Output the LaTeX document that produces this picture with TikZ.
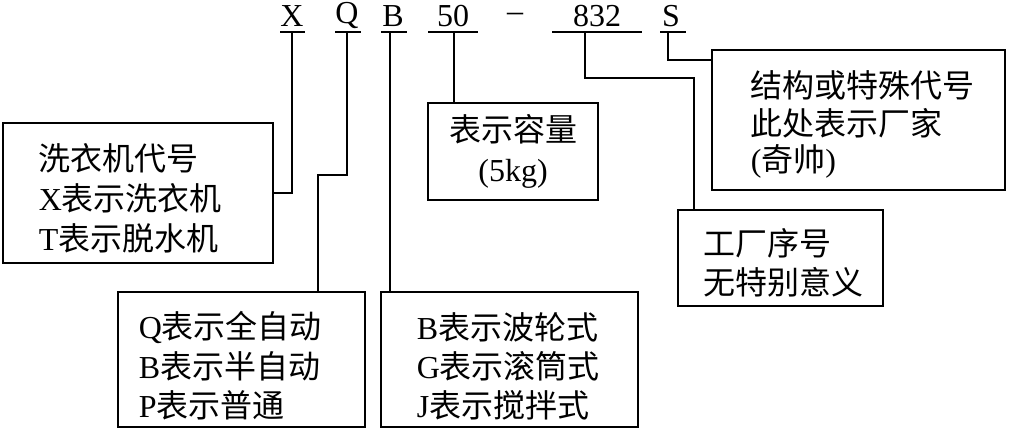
\documentclass[tikz,border=0pt]{standalone}
\usepackage{fontspec}
\setmainfont{Liberation Serif}
\newfontfamily\cjk{Noto Sans CJK SC}
\begin{document}
\begin{tikzpicture}[x=0.75pt,y=-0.75pt,line width=1.2pt,
  bx/.style={draw,line width=1.2pt},
  txt/.style={anchor=west,align=left,font=\fontsize{24}{30}\selectfont,inner sep=0pt},
  code/.style={font=\fontsize{24}{30}\selectfont,inner sep=0pt}]
\useasboundingbox (0,0) rectangle (1010,434);
% code letters
\node[code] (lx) at (292,16) {X};
\node[code] (lq) at (347,16) {Q};
\node[code] (lb) at (393,16) {B};
\node[code] (l50) at (453,16) {50};
\node[code] (ld) at (515,17) {--};
\node[code] (l832) at (597,16) {832};
\node[code] (ls) at (671,16) {S};
% underlines
\draw (280,32) -- (305,32); \draw (335,32) -- (361,32); \draw (381,32) -- (407,32);
\draw (428,32) -- (478,32); \draw (552,32) -- (642,32); \draw (660,32) -- (686,32);
% boxes
\draw[bx] (3,123) rectangle (273,263);
\node[txt] at (38,158) {\cjk 洗衣机代号};
\node[txt] at (38,198) {X\cjk 表示洗衣机};
\node[txt] at (38,238) {T\cjk 表示脱水机};
\draw[bx] (118,292) rectangle (365,427);
\node[txt] at (138,327) {Q\cjk 表示全自动};
\node[txt] at (138,366) {B\cjk 表示半自动};
\node[txt] at (138,405) {P\cjk 表示普通};
\draw[bx] (381,292) rectangle (638,427);
\node[txt] at (416,327) {B\cjk 表示波轮式};
\node[txt] at (416,366) {G\cjk 表示滚筒式};
\node[txt] at (416,405) {J\cjk 表示搅拌式};
\draw[bx] (428,103) rectangle (598,200);
\node[txt,anchor=center,align=center] at (513,151) {{\cjk 表示容量}\\(5kg)};
\draw[bx] (678,210) rectangle (883,306);
\node[txt] at (703,243) {\cjk 工厂序号};
\node[txt] at (703,282) {\cjk 无特别意义};
\draw[bx] (712,50) rectangle (1005,190);
\node[txt] at (750,85) {\cjk 结构或特殊代号};
\node[txt] at (750,123) {\cjk 此处表示厂家};
\node[txt] at (750,161) {({\cjk 奇帅})};
% connectors
\draw (292,32) -- (292,193) -- (273,193);
\draw (347,32) -- (347,175) -- (318,175) -- (318,292);
\draw (390,32) -- (390,292);
\draw (454,32) -- (454,103);
\draw (585,32) -- (585,78) -- (694,78) -- (694,210);
\draw (668,32) -- (668,60) -- (712,60);
\end{tikzpicture}
\end{document}
